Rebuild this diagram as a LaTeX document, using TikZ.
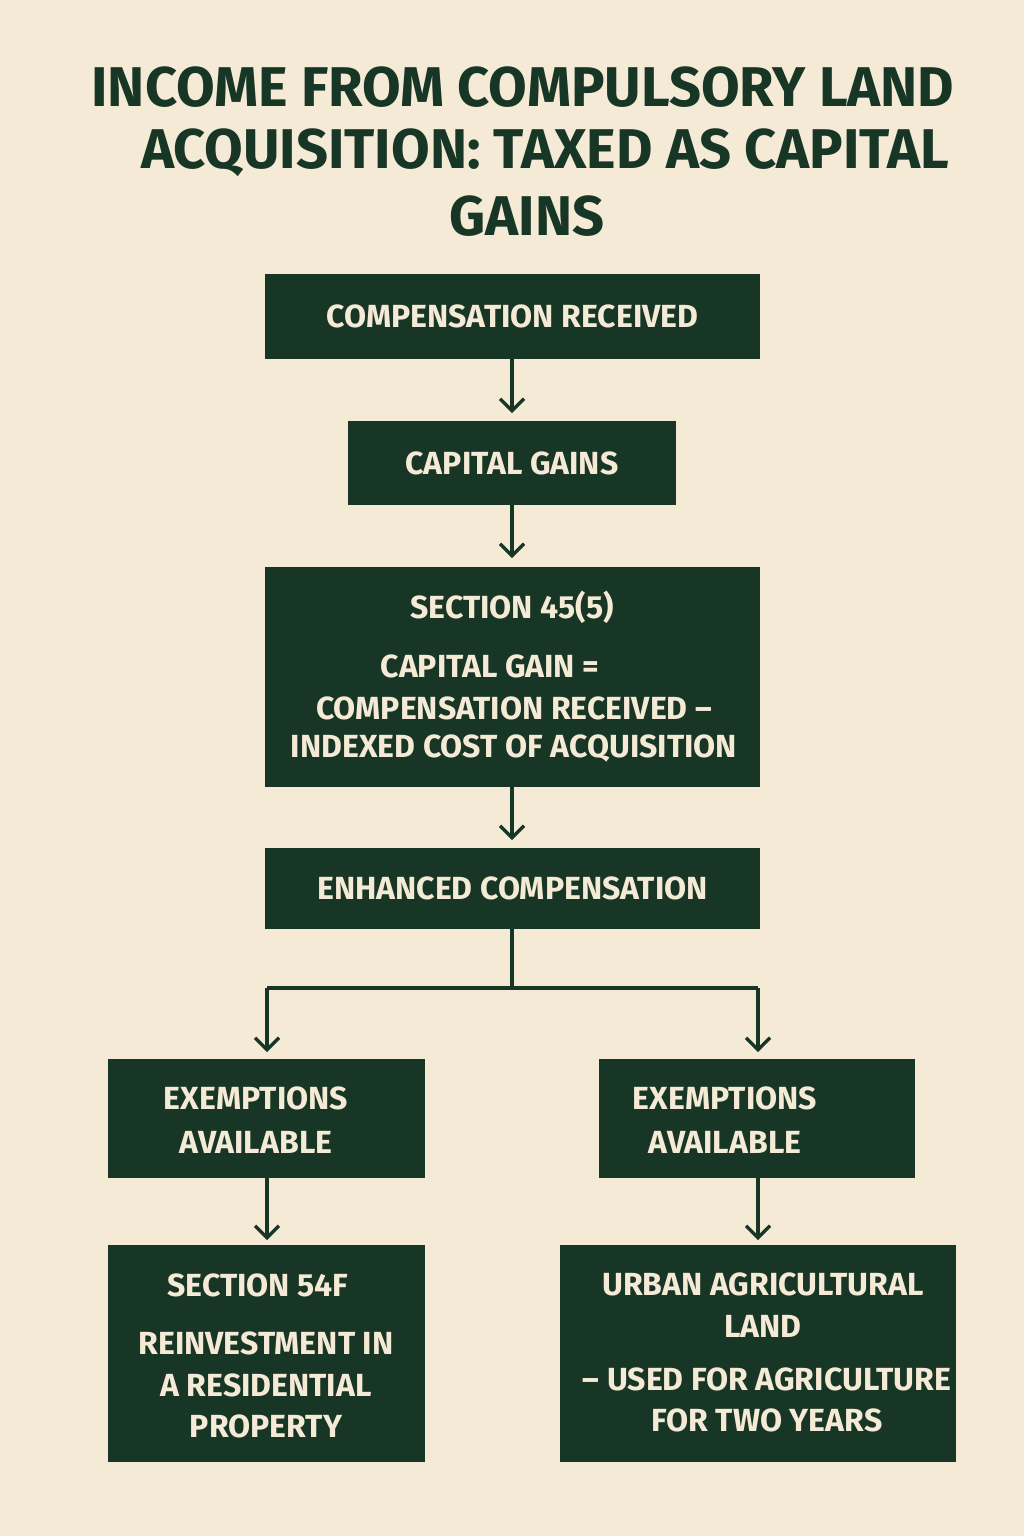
\documentclass[tikz,border=0pt]{standalone}
\usepackage{fontspec}
\setmainfont{Fira Sans}
\usetikzlibrary{arrows.meta}
\definecolor{bg}{HTML}{F5EAD6}
\definecolor{dg}{HTML}{183625}
\begin{document}
\begin{tikzpicture}[x=0.75pt,y=-0.75pt,
 box/.style={fill=dg,draw=none},
 bt/.style={text=bg,font=\fontsize{24}{29}\selectfont\bfseries,align=center,inner sep=0},
 tt/.style={text=dg,font=\fontsize{42}{50}\selectfont\bfseries,inner sep=0},
 conn/.style={draw=dg,line width=2.4pt,-{Straight Barb[length=9pt,width=18pt,line width=2.4pt]}},
 ln/.style={draw=dg,line width=2.4pt}]
\fill[bg] (0,0) rectangle (1024,1536);
\node[tt] (t1) at (523,87) {INCOME FROM COMPULSORY LAND};
\node[tt] (t2) at (545,153) {ACQUISITION: TAXED AS CAPITAL};
\node[tt] (t3) at (527,216) {GAINS};
\path[box] (265,274) rectangle (760,359) node (b1) [pos=0.5,bt] {COMPENSATION RECEIVED};
\path[box] (348,421) rectangle (676,505) node (b2) [pos=0.5,bt] {CAPITAL GAINS};
\path[box] (265,567) rectangle (760,787);
\node[bt] (b3) at (512,607) {SECTION 45(5)};
\node[bt] at (490,666) {CAPITAL GAIN =};
\node[bt] at (514,708) {COMPENSATION RECEIVED –};
\node[bt] at (514,748) {INDEXED COST OF ACQUISITION};
\path[box] (265,848) rectangle (760,929) node (b4) [pos=0.5,bt] {ENHANCED COMPENSATION};
\path[box] (108,1059) rectangle (425,1178);
\node[bt] (l1) at (256,1120) {EXEMPTIONS\\[4pt]AVAILABLE};
\path[box] (599,1059) rectangle (915,1178);
\node[bt] (r1) at (725,1120) {EXEMPTIONS\\[4pt]AVAILABLE};
\path[box] (108,1245) rectangle (425,1462);
\node[bt] at (258,1285) {SECTION 54F};
\node[bt] at (266,1385) {REINVESTMENT IN\\[2pt]A RESIDENTIAL\\[2pt]PROPERTY};
\path[box] (560,1245) rectangle (956,1462);
\node[bt] at (763,1305) {URBAN AGRICULTURAL\\[2pt]LAND};
\node[bt] at (767,1400) {– USED FOR AGRICULTURE\\[2pt]FOR TWO YEARS};
\coordinate (a1) at (512,359); \coordinate (a1e) at (512,413);
\coordinate (a2) at (512,505); \coordinate (a2e) at (512,558);
\coordinate (a3) at (512,787); \coordinate (a3e) at (512,840);
\coordinate (a4) at (512,929); \coordinate (j) at (512,988);
\coordinate (jl) at (267,988); \coordinate (jr) at (758,988);
\coordinate (le) at (267,1052); \coordinate (re) at (758,1052);
\coordinate (lb) at (267,1178); \coordinate (lbe) at (267,1240);
\coordinate (rb) at (758,1178); \coordinate (rbe) at (758,1240);
\draw[conn] (a1) -- (a1e);
\draw[conn] (a2) -- (a2e);
\draw[conn] (a3) -- (a3e);
\draw[ln] (a4) -- (j);
\draw[ln] (jl) -- (jr);
\draw[conn] (jl) -- (le);
\draw[conn] (jr) -- (re);
\draw[conn] (lb) -- (lbe);
\draw[conn] (rb) -- (rbe);
\end{tikzpicture}
\end{document}
